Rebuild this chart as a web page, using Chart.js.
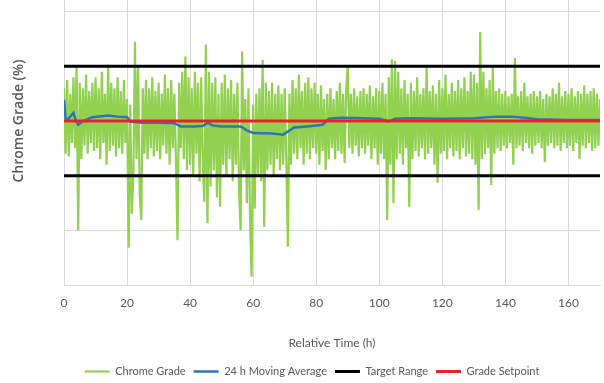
<!DOCTYPE html>
<html>
<head>
<meta charset="utf-8">
<script src="https://cdn.jsdelivr.net/npm/chart.js@4.4.1/dist/chart.umd.min.js"></script>
<style>
  html, body { margin: 0; padding: 0; background: #fff; overflow: hidden; }
  #wrap { width: 604px; height: 383px; overflow: hidden; position: relative; }
  /* the original figure is cut off at the top, so the canvas sticks out above the window */
  #myChart { position: absolute; left: 0; top: -43px; }
</style>
</head>
<body>
<div id="wrap"><canvas id="myChart" width="604" height="430"></canvas></div>
<script>
// chrome grade samples, one every half hour from t = 0 h
const gradeTimeStep = 0.5;
const chromeGrade = [
  3.6,2.4,3.75,2.35,3.5,2.6,3.8,2.5,4.0,1.0,3.7,2.3,3.6,2.55,3.85,2.4,3.55,2.6,3.7,2.45,
  3.8,2.5,3.6,2.3,3.9,2.6,3.5,2.2,4.03,2.45,3.7,2.55,3.6,2.35,3.8,2.5,3.55,2.4,3.75,2.6,
  3.4,0.68,3.3,1.3,2.0,4.45,2.3,4.0,1.7,1.19,3.6,2.4,3.75,2.3,3.6,2.5,3.8,2.35,3.55,2.45,
  3.7,2.3,3.5,2.55,3.85,2.4,3.6,2.2,3.75,2.5,3.5,2.3,0.82,3.7,2.5,3.9,2.3,4.18,2.1,3.8,
  2.2,3.6,2.0,3.9,2.4,3.7,1.9,3.8,2.3,1.52,4.4,1.13,3.9,1.8,3.7,2.1,3.8,1.6,3.5,1.43,
  3.7,2.2,3.85,2.0,3.6,2.3,3.75,1.9,3.5,2.2,3.7,1.8,1.0,4.27,2.1,3.4,1.5,3.6,1.2,0.15,
  3.3,1.4,3.5,2.0,3.6,1.9,4.12,1.06,3.7,2.1,3.55,2.2,3.7,2.0,3.5,2.3,3.65,2.1,3.5,2.2,
  3.6,2.3,0.7,3.5,2.2,3.75,2.4,3.6,2.3,3.85,2.5,3.55,2.2,3.7,2.4,3.8,2.3,3.6,2.5,3.7,
  2.4,3.5,2.2,3.65,2.45,3.4,2.1,3.5,2.3,3.6,2.5,3.4,2.3,3.55,2.45,3.7,2.4,3.5,2.23,3.6,
  4.0,2.5,3.5,2.4,3.6,2.55,3.45,2.35,3.55,2.5,3.6,2.4,3.5,2.55,3.65,2.3,3.45,2.5,3.6,2.2,
  3.55,2.4,3.7,2.3,3.5,1.19,3.8,2.2,4.13,1.5,4.1,2.3,3.9,2.4,3.6,2.2,3.75,2.5,3.5,1.43,
  3.7,2.3,3.55,2.45,3.8,2.35,3.5,2.5,3.6,2.3,4.0,2.4,3.55,2.5,3.65,2.2,3.5,1.87,3.75,2.4,
  3.6,2.45,3.85,2.3,3.5,2.5,3.7,2.35,3.55,2.45,3.75,2.3,3.6,2.5,3.8,2.35,3.55,2.4,3.9,2.3,
  3.85,2.2,3.7,1.37,4.63,2.3,3.9,2.4,3.6,2.5,3.75,1.83,4.0,2.4,3.55,2.5,3.6,2.45,3.5,2.55,
  3.55,2.5,3.45,2.6,3.5,2.2,4.15,2.5,3.45,2.55,3.55,2.45,3.7,2.6,3.45,2.5,3.5,2.4,3.55,2.55,
  3.45,2.6,3.55,2.5,3.4,2.25,3.5,2.55,3.45,2.6,3.6,2.5,3.5,2.55,3.7,2.45,3.45,2.6,3.55,2.5,
  3.5,2.55,3.6,2.45,3.45,2.6,3.55,2.3,3.5,2.55,3.65,2.5,3.5,2.6,3.55,2.45,3.6,2.5,3.5,2.55,3.4
];

// 24 h moving average, read at the corners of the blue line
const maTimes  = [0,0.5,1,2,3,3.5,4.5,6,9,14,17,20,21,25,30,35,37,41,44,45.7,47,50,56,58,60,66,69.5,73,77,82,84,88,95,100,103,105,110,120,130,137,142,146,150,160,170];
const maValues = [3.39,3.05,3.02,3.08,3.15,3.05,2.93,3.0,3.07,3.1,3.08,3.07,2.99,2.97,2.97,2.96,2.9,2.9,2.91,2.97,2.92,2.9,2.9,2.83,2.78,2.77,2.75,2.88,2.9,2.93,3.04,3.06,3.05,3.04,2.99,3.04,3.05,3.04,3.05,3.08,3.08,3.06,3.03,3.02,3.02];

const targetRange = [2, 4];
const gradeSetpoint = 3;
const timeSpan = [0, 170];
const xTickStep = 20;
const yGridLines = [0, 1, 2, 3, 4, 5, 6];

const labelsLegend = ['Chrome Grade', '24 h Moving Average', 'Target Range', 'Grade Setpoint'];

(function(){
    const grafico = document.getElementById('myChart');
    const gris = '#595959';

    const gradePoints = chromeGrade.map((v, i) => ({ x: i * gradeTimeStep, y: v }));
    const maPoints = maTimes.map((t, i) => ({ x: t, y: maValues[i] }));
    const flat = v => timeSpan.map(t => ({ x: t, y: v }));

    const lineBase = { pointRadius: 0, pointHoverRadius: 0, tension: 0, fill: false };

    const datasets = [
        { ...lineBase, label: labelsLegend[0], data: gradePoints, borderColor: '#92d050', backgroundColor: '#92d050', borderWidth: 2.2, order: 4 },
        { ...lineBase, label: labelsLegend[1], data: maPoints, borderColor: '#2e75b6', backgroundColor: '#2e75b6', borderWidth: 2.5, order: 3 },
        { ...lineBase, label: labelsLegend[2], data: flat(targetRange[1]), borderColor: '#000000', backgroundColor: '#000000', borderWidth: 3, order: 2 },
        { ...lineBase, label: labelsLegend[2] + '_low', data: flat(targetRange[0]), borderColor: '#000000', backgroundColor: '#000000', borderWidth: 3, order: 2 },
        { ...lineBase, label: labelsLegend[3], data: flat(gradeSetpoint), borderColor: '#e8202a', backgroundColor: '#e8202a', borderWidth: 3, order: 1 }
    ];

    // nudge the legend a little to the right, it sits under the plot area in the original
    const legendShift = {
        id: 'legendShift',
        afterLayout(chart) {
            if (chart.legend) {
                chart.legend.left += 12;
                chart.legend.right += 12;
            }
        }
    };

    const config = {
        type: 'line',
        data: { datasets: datasets },
        plugins: [legendShift],
        options: {
            responsive: false,
            animation: false,
            layout: { padding: { top: 0, left: 0, right: 4, bottom: 0 } },
            plugins: {
                tooltip: { enabled: false },
                legend: {
                    position: 'bottom',
                    labels: {
                        usePointStyle: true,
                        pointStyle: 'line',
                        pointStyleWidth: 25,
                        padding: 8,
                        color: gris,
                        font: { family: 'Lato', size: 11 },
                        filter: item => !item.text.endsWith('_low'),
                        sort: (a, b) => a.datasetIndex - b.datasetIndex
                    }
                }
            },
            scales: {
                x: {
                    type: 'linear',
                    min: timeSpan[0],
                    max: timeSpan[1],
                    afterFit: s => { s.height = 73; },
                    grid: { color: '#d9d9d9', drawTicks: false },
                    border: { color: '#d9d9d9' },
                    ticks: { stepSize: xTickStep, includeBounds: false, padding: 11, color: gris, font: { family: 'Lato', size: 12 } },
                    title: { display: true, text: 'Relative Time (h)', color: gris, font: { family: 'Lato', size: 12 }, padding: { top: 0, bottom: 8 } }
                },
                y: {
                    min: yGridLines[0],
                    max: yGridLines[yGridLines.length - 1],
                    afterFit: s => { s.width = 64; },
                    afterBuildTicks: s => { s.ticks = yGridLines.map(v => ({ value: v })); },
                    grid: { color: '#d9d9d9', drawTicks: false },
                    border: { color: '#d9d9d9' },
                    ticks: { display: false },
                    title: { display: true, text: 'Chrome Grade (%)', color: gris, font: { family: 'Open Sans', size: 14, weight: '600' }, padding: { top: 11, bottom: 0 } }
                }
            }
        }
    };

    new Chart(grafico, config);
})();
</script>
</body>
</html>
